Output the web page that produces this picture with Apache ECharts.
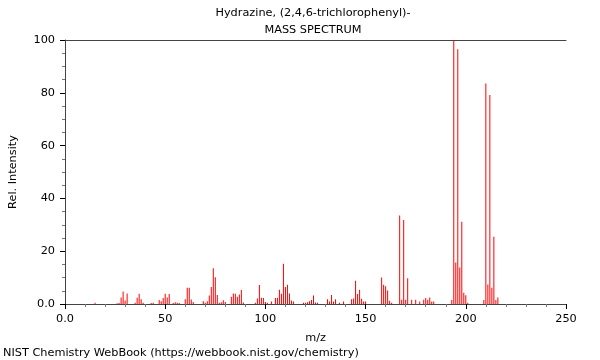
<!DOCTYPE html>
<html>
<head>
<meta charset="utf-8">
<script src="https://cdn.jsdelivr.net/npm/echarts@6/dist/echarts.min.js"></script>
<style>
html,body{margin:0;padding:0;background:#fff;}
#chart{width:600px;height:360px;}
</style>
</head>
<body>
<div id="chart"></div>
<script>
var titleLines = ["Hydrazine, (2,4,6-trichlorophenyl)-", "MASS SPECTRUM"];
var footerText = "NIST Chemistry WebBook (https://webbook.nist.gov/chemistry)";
var xAxisName = "m/z";
var yAxisName = "Rel. Intensity";
var xTickLabels = {0: "0.0", 50: "50", 100: "100", 150: "150", 200: "200", 250: "250"};
var yTickLabels = {0: "0.0", 20: "20", 40: "40", 60: "60", 80: "80", 100: "100"};

var mzValues = [15,26,27,28,29,30,31,35,36,37,38,39,43,44,47,48,49,50,51,52,54,55,56,57,
  60,61,62,63,64,69,70,71,72,73,74,75,76,77,78,79,80,83,84,85,86,87,88,89,
  95,96,97,98,99,100,101,103,105,106,107,108,109,110,111,112,113,114,
  119,120,121,122,123,124,125,126,131,132,133,134,135,137,139,
  143,144,145,146,147,148,149,150,158,159,160,161,162,163,
  167,168,169,170,171,173,175,177,179,180,181,182,183,184,
  193,194,195,196,197,198,199,200,201,209,210,211,212,213,214,215,216];
var intensities = [0.5,0.3,0.4,2.5,4.7,1.3,4.0,0.5,2.4,3.9,1.8,0.5,0.4,0.5,1.5,1.0,2.3,3.9,2.5,3.8,0.4,0.7,0.5,0.4,
  1.8,6.2,6.2,1.7,0.8,1.0,0.5,1.0,3.2,6.4,13.5,10.1,3.4,0.5,0.7,1.4,0.8,2.7,4.0,3.9,2.7,3.6,5.3,0.6,
  0.5,2.1,7.2,2.4,2.3,0.8,0.5,0.9,2.3,2.4,5.4,3.9,15.2,6.4,7.3,4.0,1.3,0.9,
  0.5,0.5,0.7,1.0,1.5,3.2,0.6,0.5,1.8,0.9,3.4,0.9,1.8,0.5,0.9,
  1.8,2.1,8.8,3.8,5.4,2.0,0.9,0.9,10.0,7.3,6.7,5.1,1.2,0.5,
  33.5,1.6,31.8,1.6,9.8,1.6,1.6,0.9,1.6,2.3,1.6,2.5,0.9,0.9,
  1.5,100,15.7,96.5,13.8,31.2,4.3,3.3,0.5,1.5,83.5,7.4,79.2,6.2,25.5,1.5,2.5];

var seriesData = mzValues.map(function (m, i) { return [m, intensities[i]]; });

var FONT = "DejaVu Sans";
var FS = 11.3;
var chart = echarts.init(document.getElementById('chart'), null, {renderer: 'canvas'});
chart.setOption({
  animation: false,
  backgroundColor: '#ffffff',
  textStyle: {fontFamily: FONT},
  grid: {left: 61, right: 34, top: 40, bottom: 56, containLabel: false},
  graphic: [
    {type: 'text', x: 313, y: 8, style: {text: titleLines[0], font: FS + 'px "DejaVu Sans"', fill: '#000', textAlign: 'center'}},
    {type: 'text', x: 313, y: 25, style: {text: titleLines[1], font: FS + 'px "DejaVu Sans"', fill: '#000', textAlign: 'center'}},
    {type: 'text', x: 3, y: 348, style: {text: footerText, font: FS + 'px "DejaVu Sans"', fill: '#000'}}
  ],
  xAxis: [{
    type: 'value', min: 0, max: 250, interval: 50,
    name: xAxisName, nameLocation: 'middle', nameGap: 29,
    nameTextStyle: {fontFamily: FONT, fontSize: FS, color: '#000'},
    axisLine: {show: true, lineStyle: {color: '#444', width: 1}},
    axisTick: {show: true, length: 5, lineStyle: {color: '#000'}},
    minorTick: {show: true, splitNumber: 5, length: 3, lineStyle: {color: '#777'}},
    splitLine: {show: false},
    axisLabel: {fontFamily: FONT, fontSize: FS, color: '#000', margin: 10,
      formatter: function (v) { return xTickLabels[v] !== undefined ? xTickLabels[v] : ''; }}
  }, {
    type: 'value', min: 0, max: 250, position: 'top',
    axisLine: {show: true, lineStyle: {color: '#444', width: 1}},
    axisTick: {show: false}, axisLabel: {show: false}, splitLine: {show: false}
  }],
  yAxis: {
    type: 'value', min: 0, max: 100, interval: 20,
    name: yAxisName, nameLocation: 'middle', nameGap: 46, nameRotate: 90,
    nameTextStyle: {fontFamily: FONT, fontSize: FS, color: '#000'},
    axisLine: {show: true, lineStyle: {color: '#444', width: 1}},
    axisTick: {show: true, length: 5, lineStyle: {color: '#000'}},
    minorTick: {show: true, splitNumber: 4, length: 3, lineStyle: {color: '#777'}},
    splitLine: {show: false},
    axisLabel: {fontFamily: FONT, fontSize: FS, color: '#000', margin: 10,
      formatter: function (v) { return yTickLabels[v] !== undefined ? yTickLabels[v] : ''; }}
  },
  series: [{
    type: 'bar', xAxisIndex: 0, data: seriesData, barWidth: 1,
    itemStyle: {color: '#ff0000'}, silent: true
  }]
});
</script>
</body>
</html>
